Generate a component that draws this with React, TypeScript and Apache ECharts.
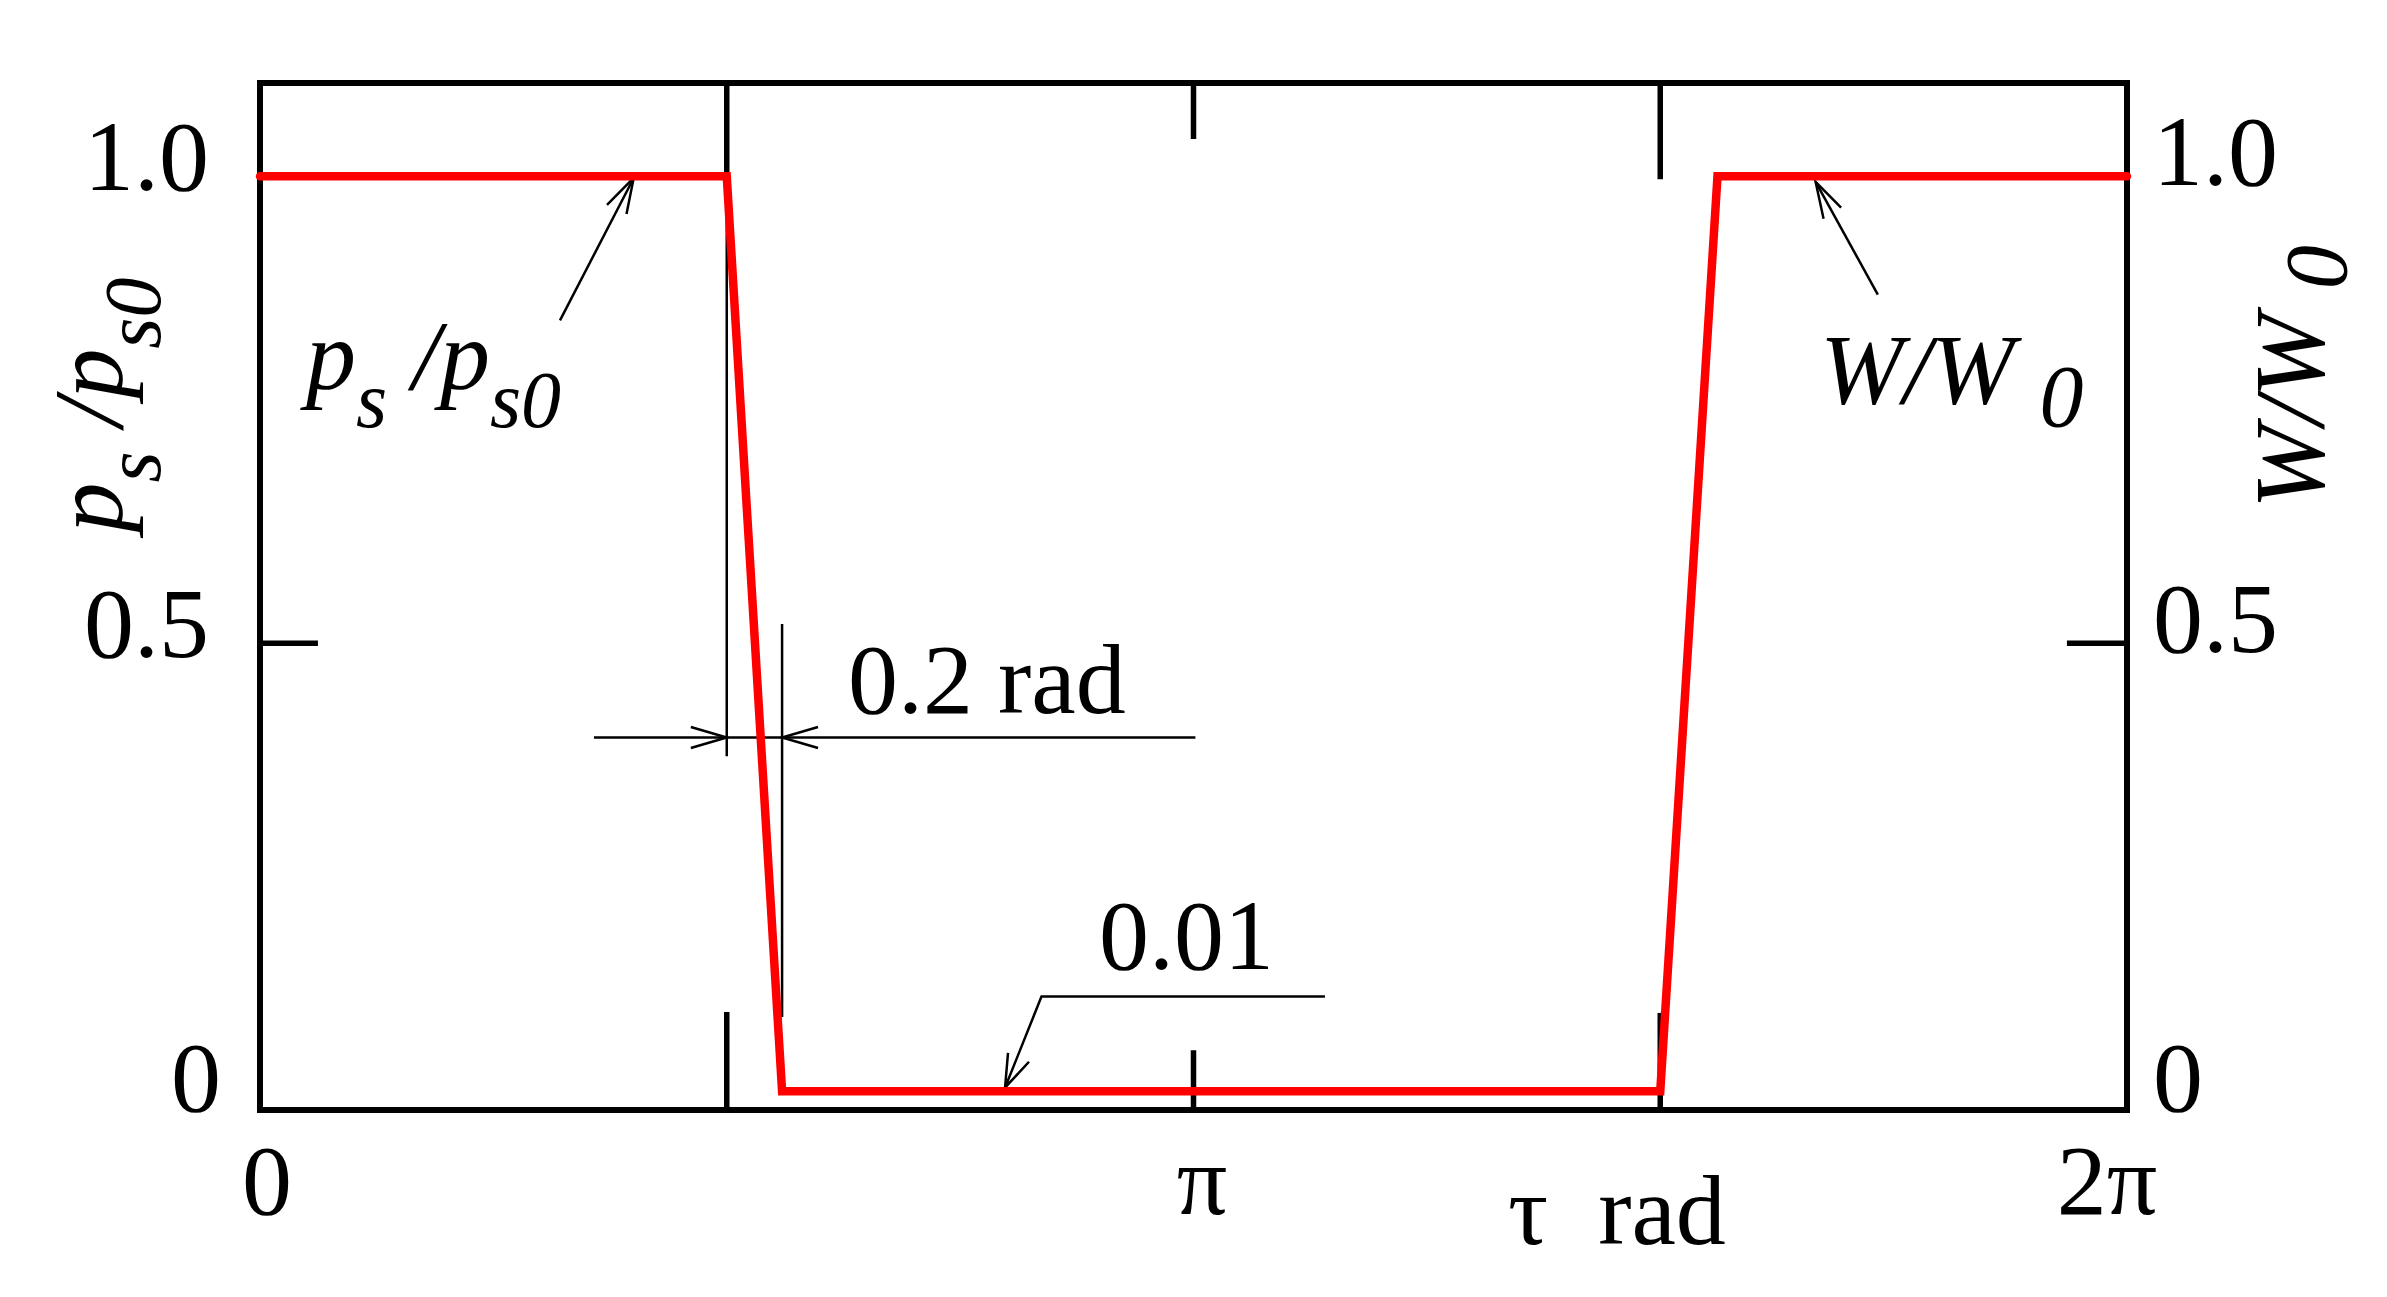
import React, { useEffect, useRef } from 'react';
import * as echarts from 'echarts';

const FONT = '"Liberation Serif", "Times New Roman", serif';

// Main curve (tau in rad, ratio)
const tauRad = [0, 1.5708, 1.757, 4.7124, 4.905, 6.2832];
const pressureRatio = [1.0, 1.0, 0.02, 0.02, 1.0, 1.0];

const xTickLabels = ['0', 'π', '2π'];
const yTickLabels = ['0', '0.5', '1.0'];

// Tick marks drawn inward (data coordinates)
const tickMarks = [
  [[1.5708, 0], [1.5708, 0.105]],
  [[3.1416, 0], [3.1416, 0.064]],
  [[4.7124, 0], [4.7124, 0.104]],
  [[3.1416, 1.1], [3.1416, 1.04]],
  [[4.7124, 1.1], [4.7124, 0.997]],
  [[1.5708, 1.1], [1.5708, 0.997]],
  [[0, 0.5], [0.195, 0.5]],
  [[6.081, 0.5], [6.2832, 0.5]],
];

// Dimension / leader lines and arrows (data coordinates)
const guideLines = [
  [[1.5708, 1.1], [1.5708, 0.379]],
  [[1.757, 0.5206], [1.757, 0.0996]],
  [[1.124, 0.399], [3.148, 0.399]],
  [[1.45, 0.4103], [1.5708, 0.399], [1.45, 0.3877]],
  [[1.878, 0.4103], [1.757, 0.399], [1.878, 0.3877]],
  [[1.0096, 0.8457], [1.2577, 0.9983]],
  [[1.1678, 0.9694], [1.2577, 0.9983], [1.2334, 0.9597]],
  [[5.4446, 0.8734], [5.2353, 0.994]],
  [[5.262, 0.9546], [5.2353, 0.994], [5.321, 0.9666]],
  [[3.584, 0.1215], [2.63, 0.1215], [2.5073, 0.0239]],
  [[2.5174, 0.0611], [2.5073, 0.0239], [2.588, 0.0517]],
];

const richP = {
  p: { fontSize: 100, lineHeight: 100, fontStyle: 'italic', fontFamily: FONT, fill: '#000', verticalAlign: 'top' },
  s: { fontSize: 80, lineHeight: 80, fontStyle: 'italic', fontFamily: FONT, fill: '#000', verticalAlign: 'top', padding: [55, 0, 0, 0] },
};
const richW = {
  w: { fontSize: 100, lineHeight: 100, fontStyle: 'italic', fontFamily: FONT, fill: '#000', verticalAlign: 'top' },
  z: { fontSize: 88, lineHeight: 88, fontStyle: 'italic', fontFamily: FONT, fill: '#000', verticalAlign: 'top', padding: [33, 0, 0, 0] },
};

const tickFont = { fontSize: 100, fontFamily: FONT, color: '#000' };

export default function App() {
  const ref = useRef<HTMLDivElement>(null);
  useEffect(() => {
    const chart = echarts.init(ref.current!, null, { renderer: 'svg' });
    const yIndex = (v: number) => {
      const i = Math.round(v / 0.5);
      if (Math.abs(v - i * 0.5) > 1e-6) return -1;
      return i;
    };
    const yFmt = (v: number) => {
      const i = yIndex(v);
      if (i < 0 || !yTickLabels[i]) return '';
      return i === 0 ? '{z|' + yTickLabels[i] + '}' : '{a|' + yTickLabels[i] + '}';
    };
    const xFmt = (v: number) => {
      const i = Math.round(v / Math.PI);
      if (Math.abs(v - i * Math.PI) > 1e-6) return '';
      const k = ['a', 'b', 'c'][i];
      return xTickLabels[i] ? '{' + k + '|' + xTickLabels[i] + '}' : '';
    };
    const option: any = {
      animation: false,
      backgroundColor: '#fff',
      grid: { left: 260, right: 260, top: 83, bottom: 187, show: true, borderColor: '#000', borderWidth: 6, backgroundColor: 'transparent' },
      xAxis: [{
        type: 'value', min: 0, max: 2 * Math.PI, interval: Math.PI,
        axisLine: { show: false }, axisTick: { show: false }, splitLine: { show: false },
        axisLabel: {
          ...tickFont, lineHeight: 100, margin: 20, formatter: xFmt,
          rich: {
            a: { ...tickFont, lineHeight: 100, padding: [0, 0, 0, 14] },
            b: { ...tickFont, lineHeight: 100, padding: [0, 0, 0, 17] },
            c: { ...tickFont, lineHeight: 100, padding: [0, 40, 0, 0] },
          },
        },
      }],
      yAxis: [
        {
          type: 'value', min: 0, max: 1.1, interval: 0.5, position: 'left',
          axisLine: { show: false }, axisTick: { show: false }, splitLine: { show: false },
          axisLabel: {
            ...tickFont, margin: 39, verticalAlign: 'bottom', showMaxLabel: false, formatter: yFmt,
            rich: {
              a: { ...tickFont, lineHeight: 40, padding: [0, 12, 0, 0] },
              z: { ...tickFont, lineHeight: 66 },
            },
          },
        },
        {
          type: 'value', min: 0, max: 1.1, interval: 0.5, position: 'right',
          axisLine: { show: false }, axisTick: { show: false }, splitLine: { show: false },
          axisLabel: {
            ...tickFont, margin: 26, verticalAlign: 'bottom', showMaxLabel: false, formatter: yFmt,
            rich: {
              a: { ...tickFont, lineHeight: 50 },
              z: { ...tickFont, lineHeight: 66 },
            },
          },
        },
      ],
      series: [
        {
          type: 'lines', coordinateSystem: 'cartesian2d', polyline: true, silent: true, z: 3,
          lineStyle: { color: '#000', width: 5.5, opacity: 1 },
          data: tickMarks.map((c) => ({ coords: c })),
        },
        {
          type: 'lines', coordinateSystem: 'cartesian2d', polyline: true, silent: true, z: 4,
          lineStyle: { color: '#000', width: 2.5, opacity: 1 },
          data: guideLines.map((c) => ({ coords: c })),
        },
        {
          type: 'line', z: 5, showSymbol: false, symbol: 'none', silent: true,
          lineStyle: { color: '#ff0000', width: 8.5, join: 'miter', cap: 'round' },
          data: tauRad.map((t, i) => [t, pressureRatio[i]]),
        },
      ],
      graphic: [
        { type: 'text', x: 306, y: 305, z: 10, style: { text: '{p|p}{s|s}{p| /p}{s|s0}', rich: richP, align: 'left', verticalAlign: 'top' } },
        { type: 'text', x: 88, y: 405, rotation: Math.PI / 2, z: 10, style: { text: '{p|p}{s|s}{p| /p}{s|s0}', rich: richP, align: 'center', verticalAlign: 'middle' } },
        { type: 'text', x: 1820, y: 319, z: 10, style: { text: '{w|W/W }{z|0}', rich: richW, align: 'left', verticalAlign: 'top' } },
        { type: 'text', x: 2289, y: 377, rotation: Math.PI / 2, z: 10, style: { text: '{w|W/W }{z|0}', rich: richW, align: 'center', verticalAlign: 'middle' } },
        { type: 'text', x: 848, y: 679, z: 10, style: { text: '0.2 rad', fontSize: 100, fontFamily: FONT, fill: '#000', align: 'left', verticalAlign: 'middle' } },
        { type: 'text', x: 1099, y: 935, z: 10, style: { text: '0.01', fontSize: 100, fontFamily: FONT, fill: '#000', align: 'left', verticalAlign: 'middle' } },
        { type: 'text', x: 1508, y: 1210, z: 10, style: { text: 'τ  rad', fontSize: 100, fontFamily: FONT, fill: '#000', align: 'left', verticalAlign: 'middle' } },
      ],
    };
    chart.setOption(option);
    return () => chart.dispose();
  }, []);
  return <div ref={ref} style={{ position: 'fixed', left: 0, top: 0, width: 2387, height: 1297, background: '#fff' }} />;
}
